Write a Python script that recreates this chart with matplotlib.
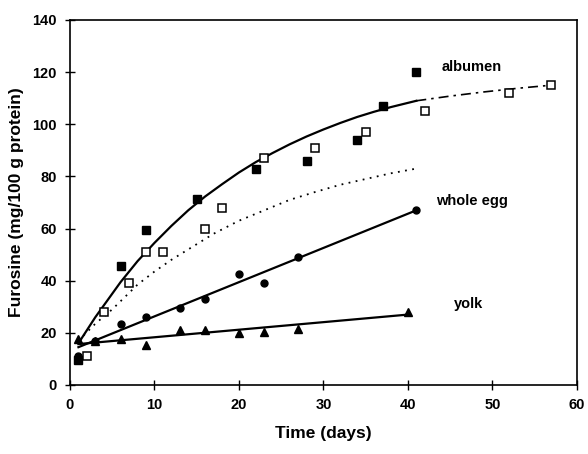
import matplotlib
matplotlib.use("Agg")
import matplotlib.pyplot as plt

plt.rcParams['font.family'] = ['Liberation Sans', 'DejaVu Sans']
plt.rcParams['font.weight'] = 'bold'

# measured points
alb_x = [1, 6, 9, 15, 22, 28, 34, 37, 41]
alb_y = [9.5, 45.5, 59.5, 71.5, 83, 86, 94, 107, 120]
alb2_x = [2, 4, 7, 9, 11, 16, 18, 23, 29, 35, 42, 52, 57]
alb2_y = [11, 28, 39, 51, 51, 60, 68, 87, 91, 97, 105, 112, 115]
egg_x = [1, 3, 6, 9, 13, 16, 20, 23, 27, 41]
egg_y = [11, 17, 23.5, 26, 29.5, 33, 42.5, 39, 49, 67]
yolk_x = [1, 3, 6, 9, 13, 16, 20, 23, 27, 40]
yolk_y = [17.5, 17, 17.5, 15.5, 21, 21, 20, 20.5, 21.5, 28]

# fitted curves
fit_alb_x = [1, 2, 3, 4, 5, 6, 7, 8, 9, 10, 12, 14, 16, 18, 20, 22, 24, 26,
             28, 30, 32, 34, 36, 38, 40, 41]
fit_alb_y = [16, 21, 26, 30.5, 35, 39.5, 43.5, 47.5, 51, 54.5, 61, 67, 72.3,
             77, 81.5, 85.5, 89, 92.3, 95.3, 98, 100.5, 102.8, 104.8, 106.6,
             108.2, 109]
fit_alb2_x = [41, 45, 49, 53, 57]
fit_alb2_y = [109, 110.8, 112.4, 113.8, 115]
fit_dot_x = [1, 3, 5, 8, 10, 12, 15, 17, 20, 23, 26, 29, 32, 35, 38, 41]
fit_dot_y = [17, 23.5, 29, 38.5, 43.5, 48, 54, 58, 63, 67, 71, 74, 76.8, 79,
             81.2, 83]
fit_egg_x = [1, 41]
fit_egg_y = [14.5, 67]
fit_yolk_x = [1, 40]
fit_yolk_y = [15.7, 27]

fig = plt.figure(figsize=(5.88, 4.54), dpi=100)
ax = fig.add_axes([0.119, 0.152, 0.862, 0.804])

ax.plot(fit_alb_x, fit_alb_y, color='black', lw=1.6)
ax.plot(fit_alb2_x, fit_alb2_y, color='black', lw=1.2, linestyle=(0, (6, 3, 1.5, 3)))
ax.plot(fit_dot_x, fit_dot_y, color='black', lw=1.3, linestyle=(0, (1, 3)))
ax.plot(fit_egg_x, fit_egg_y, color='black', lw=1.6)
ax.plot(fit_yolk_x, fit_yolk_y, color='black', lw=1.6)

ax.plot(alb_x, alb_y, 's', color='black', ms=5.5, ls='none')
ax.plot(alb2_x, alb2_y, 's', mfc='white', mec='black', mew=1.1, ms=5.5, ls='none')
ax.plot(egg_x, egg_y, 'o', color='black', ms=5, ls='none')
ax.plot(yolk_x, yolk_y, '^', color='black', ms=5.5, ls='none')

ax.text(44, 122, 'albumen', fontsize=10.5, fontweight='bold', va='center')
ax.text(43.3, 70.7, 'whole egg', fontsize=10.5, fontweight='bold', va='center')
ax.text(45.4, 31, 'yolk', fontsize=10.5, fontweight='bold', va='center')

ax.set_xlim(0, 60)
ax.set_ylim(0, 140)
ax.set_xticks(range(0, 61, 10))
ax.set_yticks(range(0, 141, 20))
ax.tick_params(direction='inout', length=7, width=1, labelsize=10.5, pad=6)
for lab in ax.get_xticklabels() + ax.get_yticklabels():
    lab.set_fontweight('bold')
for s in ax.spines.values():
    s.set_linewidth(1.2)

ax.set_xlabel('Time (days)', fontsize=12.5, fontweight='bold', labelpad=10)
ax.set_ylabel('Furosine (mg/100 g protein)', fontsize=12.5, fontweight='bold', labelpad=6)

fig.savefig('out.png', dpi=100)
